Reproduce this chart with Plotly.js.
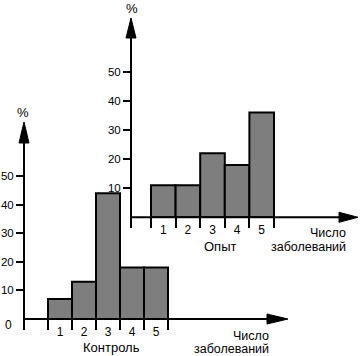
<!DOCTYPE html>
<html><head><meta charset="utf-8">
<script src="https://cdn.plot.ly/plotly-3.0.1.min.js"></script>
<style>html,body{margin:0;padding:0;background:#fff}</style>
</head><body><div id="chart" style="width:361px;height:356px"></div>
<script>
// Data
const categories = [1, 2, 3, 4, 5];
const tickLabels = ['1', '2', '3', '4', '5'];
const controlValues = [7, 13, 44, 18, 18];
const experimentValues = [11, 11, 22, 18, 36];
const yTicks = [10, 20, 30, 40, 50];

const W = 361, H = 356;
const px = v => v / W;
const py = v => 1 - v / H;
const FONT = 'Liberation Sans, Arial, sans-serif';

const pattern = {shape: '.', fgcolor: '#3a3a3a', bgcolor: '#b4b4b4', size: 2, solidity: 0.5};

const traces = [
  {type: 'bar', x: categories, y: controlValues, width: 1, xaxis: 'x', yaxis: 'y',
   marker: {color: '#b4b4b4', pattern: pattern, line: {color: '#000', width: 2}}, hoverinfo: 'skip'},
  {type: 'bar', x: categories, y: experimentValues, width: 1, xaxis: 'x2', yaxis: 'y2',
   marker: {color: '#b4b4b4', pattern: pattern, line: {color: '#000', width: 2}}, hoverinfo: 'skip'}
];

function xAx(domain, range) {
  return {domain: domain, range: range,
    showgrid: false, zeroline: false, showline: false,
    tickmode: 'array', tickvals: categories, ticktext: tickLabels, ticks: '',
    ticklabelstandoff: 4,
    tickfont: {family: FONT, size: 12, color: '#000'},
    minor: {tickmode: 'array', tickvals: [0.5, 1.5, 2.5, 3.5, 4.5, 5.5], ticks: 'outside', ticklen: 10, tickwidth: 2, tickcolor: '#000', showgrid: false},
    fixedrange: true};
}
function yAx(domain, range) {
  return {domain: domain, range: range, showgrid: false, zeroline: false, showline: false,
    tickmode: 'array', tickvals: yTicks, ticks: 'outside', ticklen: 7, tickwidth: 2, tickcolor: '#000',
    ticklabelstandoff: 0,
    tickfont: {family: FONT, size: 11.5, color: '#000'}, fixedrange: true};
}

const xa1 = xAx([px(24), px(268)], [-0.5, -0.5 + 244 / 24]); xa1.anchor = 'y';
const ya1 = yAx([py(319), py(143)], [0, 176 / 2.86]); ya1.anchor = 'x';
const xa2 = xAx([px(131), px(340)], [-0.313, -0.313 + 209 / 24.6]); xa2.anchor = 'y2';
const ya2 = yAx([py(217.3), py(38)], [0, 179.3 / 2.912]); ya2.anchor = 'x2';

function line(x0, y0, x1, y1) {
  return {type: 'line', xref: 'paper', yref: 'paper', x0: px(x0), y0: py(y0), x1: px(x1), y1: py(y1),
    line: {color: '#000', width: 2}, layer: 'above'};
}
function tri(pts) {
  const d = 'M' + pts.map(p => px(p[0]) + ',' + py(p[1])).join(' L') + ' Z';
  return {type: 'path', xref: 'paper', yref: 'paper', path: d, fillcolor: '#000', line: {color: '#000', width: 1}, layer: 'above'};
}

const shapes = [
  // lower chart axes
  line(24, 140, 24, 330),
  line(24, 319, 270, 319),
  tri([[24, 122], [19, 143], [29, 143]]),
  tri([[288, 319], [267, 314], [267, 324]]),
  // upper chart axes
  line(131, 35, 131, 228),
  line(131, 217.3, 342, 217.3),
  tri([[131, 18], [126, 38], [136, 38]]),
  tri([[358, 217.3], [339, 212.3], [339, 222.3]])
];

function txt(text, x, y, xanchor, size) {
  return {text: text, xref: 'paper', yref: 'paper', x: px(x), y: py(y), xanchor: xanchor || 'center', yanchor: 'middle',
    showarrow: false, font: {family: FONT, size: size || 12, color: '#000'}};
}

const annotations = [
  txt('%', 23, 112, 'center', 13),
  txt('%', 132, 8, 'center', 13),
  txt('0', 8, 325),
  txt('Контроль', 112, 347, 'center', 13),
  txt('Опыт', 220, 246, 'center', 13),
  txt('Число', 271, 336, 'right', 12.5),
  txt('заболеваний', 271, 349, 'right', 12.5),
  txt('Число', 348, 233, 'right', 12.5),
  txt('заболеваний', 348, 247, 'right', 12.5)
];

const layout = {
  width: W, height: H, margin: {l: 0, r: 0, t: 0, b: 0},
  paper_bgcolor: '#fff', plot_bgcolor: 'rgba(0,0,0,0)',
  showlegend: false, bargap: 0,
  xaxis: xa1, yaxis: ya1, xaxis2: xa2, yaxis2: ya2,
  shapes: shapes, annotations: annotations
};

Plotly.newPlot('chart', traces, layout, {displayModeBar: false, staticPlot: true});
</script>
</body></html>
